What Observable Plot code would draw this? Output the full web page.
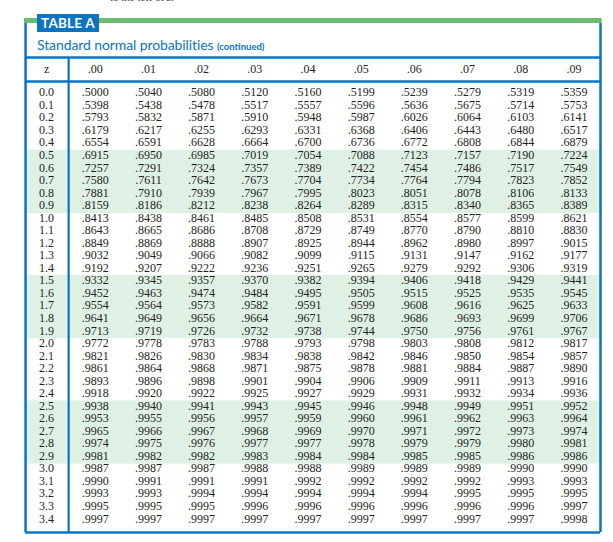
<!DOCTYPE html>
<html>
<head>
<meta charset="utf-8">
<script src="https://cdn.jsdelivr.net/npm/d3@7"></script>
<script src="https://cdn.jsdelivr.net/npm/@observablehq/plot@0.6"></script>
<style>
  html, body { margin: 0; padding: 0; background: #fff; }
  #wrap { position: relative; width: 613px; height: 542px; overflow: hidden; }
  #cut { position: absolute; left: 110px; top: -9px; font: 11px "Liberation Serif", serif; color: #444; white-space: nowrap; }
  #tag { position: absolute; left: 37px; top: 14px; width: 62px; height: 18px; background: #0b73c4; color: #fff;
         font: bold 13.5px Lato, sans-serif; line-height: 19px; text-align: center; letter-spacing: 0.2px; }
  #sub { position: absolute; left: 37px; top: 36px; color: #0b73c4; font: 14px Lato, sans-serif; white-space: nowrap; letter-spacing: -0.1px; }
  #sub small { font-size: 9.5px; font-weight: bold; letter-spacing: 0; }
  svg { display: block; }
</style>
</head>
<body>
<div id="wrap">
  <div id="cut">to the left of <i>z</i>.</div>
  <div id="chart"></div>
  <div id="tag">TABLE A</div>
  <div id="sub">Standard normal probabilities <small>(continued)</small></div>
</div>
<script>
const zLabels = ["0.0","0.1","0.2","0.3","0.4","0.5","0.6","0.7","0.8","0.9",
  "1.0","1.1","1.2","1.3","1.4","1.5","1.6","1.7","1.8","1.9",
  "2.0","2.1","2.2","2.3","2.4","2.5","2.6","2.7","2.8","2.9",
  "3.0","3.1","3.2","3.3","3.4"];
const colLabels = [".00",".01",".02",".03",".04",".05",".06",".07",".08",".09"];
const probs = [
  [".5000",".5040",".5080",".5120",".5160",".5199",".5239",".5279",".5319",".5359"],
  [".5398",".5438",".5478",".5517",".5557",".5596",".5636",".5675",".5714",".5753"],
  [".5793",".5832",".5871",".5910",".5948",".5987",".6026",".6064",".6103",".6141"],
  [".6179",".6217",".6255",".6293",".6331",".6368",".6406",".6443",".6480",".6517"],
  [".6554",".6591",".6628",".6664",".6700",".6736",".6772",".6808",".6844",".6879"],
  [".6915",".6950",".6985",".7019",".7054",".7088",".7123",".7157",".7190",".7224"],
  [".7257",".7291",".7324",".7357",".7389",".7422",".7454",".7486",".7517",".7549"],
  [".7580",".7611",".7642",".7673",".7704",".7734",".7764",".7794",".7823",".7852"],
  [".7881",".7910",".7939",".7967",".7995",".8023",".8051",".8078",".8106",".8133"],
  [".8159",".8186",".8212",".8238",".8264",".8289",".8315",".8340",".8365",".8389"],
  [".8413",".8438",".8461",".8485",".8508",".8531",".8554",".8577",".8599",".8621"],
  [".8643",".8665",".8686",".8708",".8729",".8749",".8770",".8790",".8810",".8830"],
  [".8849",".8869",".8888",".8907",".8925",".8944",".8962",".8980",".8997",".9015"],
  [".9032",".9049",".9066",".9082",".9099",".9115",".9131",".9147",".9162",".9177"],
  [".9192",".9207",".9222",".9236",".9251",".9265",".9279",".9292",".9306",".9319"],
  [".9332",".9345",".9357",".9370",".9382",".9394",".9406",".9418",".9429",".9441"],
  [".9452",".9463",".9474",".9484",".9495",".9505",".9515",".9525",".9535",".9545"],
  [".9554",".9564",".9573",".9582",".9591",".9599",".9608",".9616",".9625",".9633"],
  [".9641",".9649",".9656",".9664",".9671",".9678",".9686",".9693",".9699",".9706"],
  [".9713",".9719",".9726",".9732",".9738",".9744",".9750",".9756",".9761",".9767"],
  [".9772",".9778",".9783",".9788",".9793",".9798",".9803",".9808",".9812",".9817"],
  [".9821",".9826",".9830",".9834",".9838",".9842",".9846",".9850",".9854",".9857"],
  [".9861",".9864",".9868",".9871",".9875",".9878",".9881",".9884",".9887",".9890"],
  [".9893",".9896",".9898",".9901",".9904",".9906",".9909",".9911",".9913",".9916"],
  [".9918",".9920",".9922",".9925",".9927",".9929",".9931",".9932",".9934",".9936"],
  [".9938",".9940",".9941",".9943",".9945",".9946",".9948",".9949",".9951",".9952"],
  [".9953",".9955",".9956",".9957",".9959",".9960",".9961",".9962",".9963",".9964"],
  [".9965",".9966",".9967",".9968",".9969",".9970",".9971",".9972",".9973",".9974"],
  [".9974",".9975",".9976",".9977",".9977",".9978",".9979",".9979",".9980",".9981"],
  [".9981",".9982",".9982",".9983",".9984",".9984",".9985",".9985",".9986",".9986"],
  [".9987",".9987",".9987",".9988",".9988",".9989",".9989",".9989",".9990",".9990"],
  [".9990",".9991",".9991",".9991",".9992",".9992",".9992",".9992",".9993",".9993"],
  [".9993",".9993",".9994",".9994",".9994",".9994",".9994",".9995",".9995",".9995"],
  [".9995",".9995",".9995",".9996",".9996",".9996",".9996",".9996",".9996",".9997"],
  [".9997",".9997",".9997",".9997",".9997",".9997",".9997",".9997",".9997",".9998"]
];
const shadedRows = [["0.5","0.9"],["1.5","1.9"],["2.5","2.9"]];

const BLUE = "#0b73c4", GREEN = "#6bbc70", BAND = "#dff1e5", INK = "#231f20";

// layout in column / row units
const X_LEFT = -1.31, X_SEP = -0.5, X_RIGHT = 9.5, X_Z = -0.915;
const Y_TOPBAR = -5.9, Y_BAR_BOTTOM = -5.5, Y_LINE1 = -2.79, Y_HEAD = -1.84, Y_LINE2 = -0.88, Y_BOTTOM = 35.1;

const cells = probs.flatMap((row, i) => row.map((v, j) => ({row: i, col: j, text: v})));
const rowsIdx = zLabels.map((z, i) => ({row: i, z}));
const bands = shadedRows.map(([a, b]) => ({from: zLabels.indexOf(a), to: zLabels.indexOf(b)}));

const chart = Plot.plot({
  width: 613, height: 542,
  marginTop: 18, marginBottom: 10, marginLeft: 24, marginRight: 13,
  x: {domain: [-1.33, 9.5], axis: null},
  y: {domain: [Y_TOPBAR, Y_BOTTOM], reverse: true, axis: null},
  style: {fontFamily: "'Liberation Serif', 'Times New Roman', serif", fontSize: "12px", color: INK, background: "white"},
  marks: [
    Plot.rect(bands, {x1: X_LEFT, x2: X_RIGHT, y1: d => d.from - 0.4, y2: d => d.to + 0.65, fill: BAND}),
    Plot.rect([0], {x1: -1.33, x2: 9.53, y1: Y_TOPBAR, y2: Y_BAR_BOTTOM, fill: GREEN}),
    Plot.ruleY([Y_LINE1, Y_LINE2, Y_BOTTOM], {x1: X_LEFT, x2: X_RIGHT, stroke: BLUE, strokeWidth: 2.5}),
    Plot.ruleX([X_LEFT, X_RIGHT], {y1: Y_BAR_BOTTOM, y2: Y_BOTTOM, stroke: BLUE, strokeWidth: 2.5}),
    Plot.ruleX([X_SEP], {y1: Y_LINE1, y2: Y_BOTTOM, stroke: BLUE, strokeWidth: 2.2}),
    Plot.text(["z"], {x: X_Z, y: Y_HEAD, text: d => d, fill: INK}),
    Plot.text(colLabels, {x: (d, i) => i, y: Y_HEAD, text: d => d, fill: INK}),
    Plot.text(rowsIdx, {x: X_Z, y: "row", text: "z", fill: INK}),
    Plot.text(cells, {x: "col", y: "row", text: "text", fill: INK})
  ]
});
document.getElementById("chart").appendChild(chart);
</script>
</body>
</html>
